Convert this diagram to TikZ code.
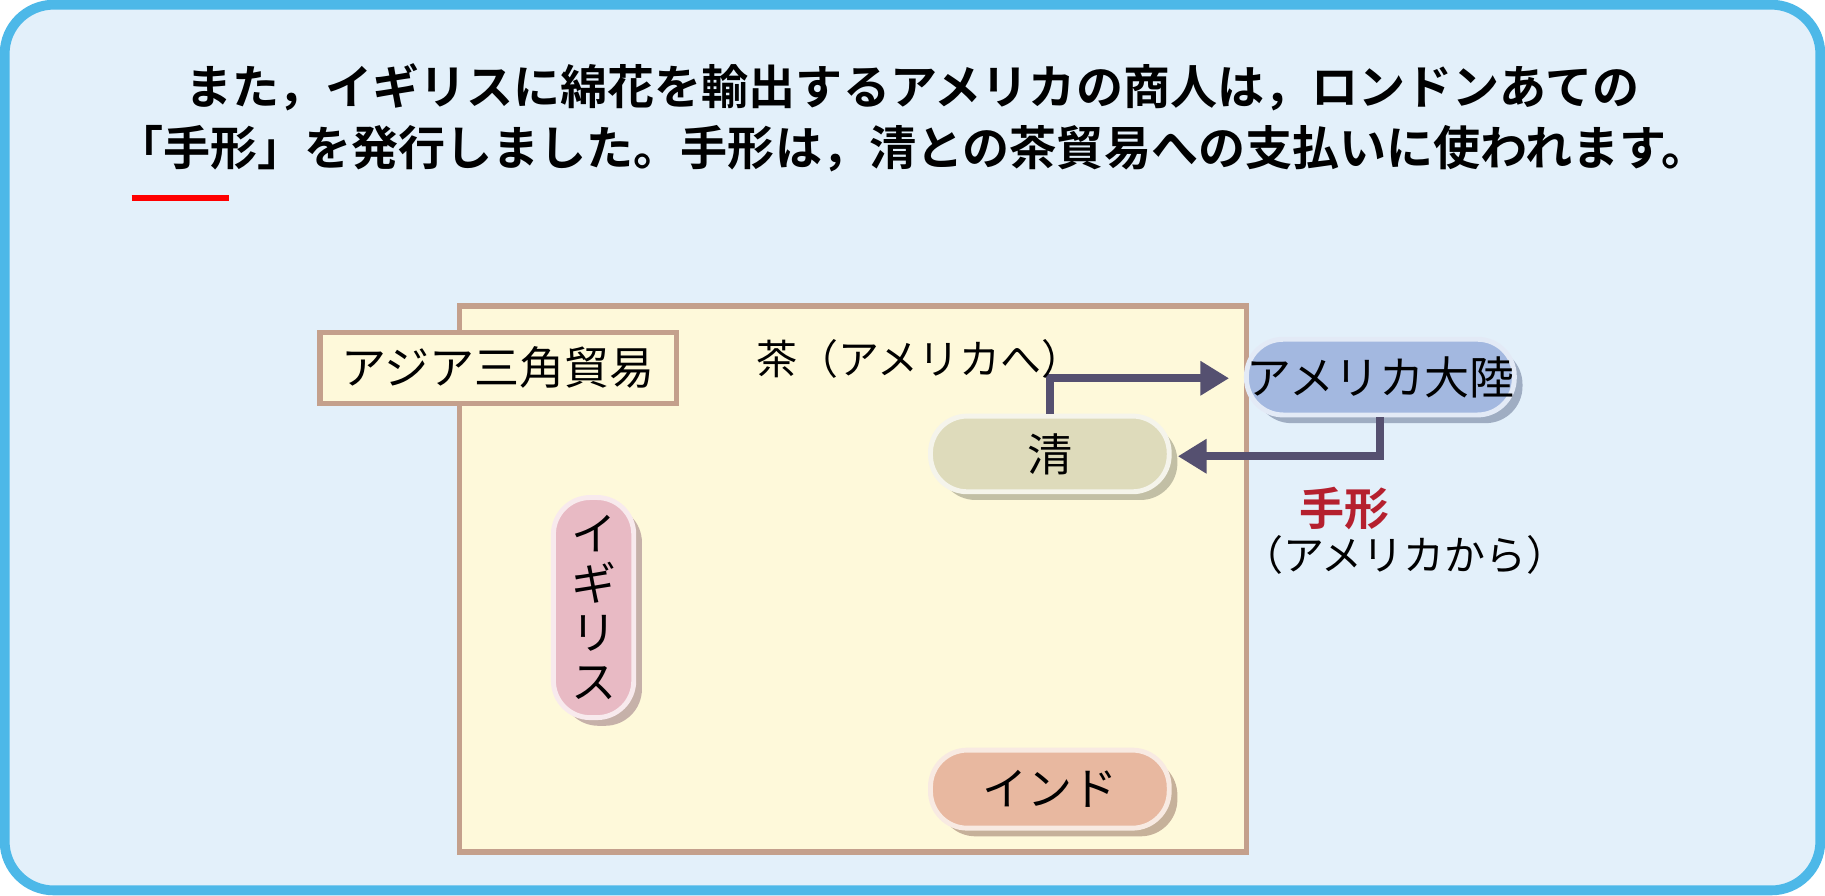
\documentclass[tikz,border=0pt]{standalone}
\usepackage{fontspec}
\setmainfont{Noto Sans CJK JP}
\newfontfamily\jpbold{Noto Sans CJK JP Bold}
\usetikzlibrary{positioning,shadows,arrows.meta}
\definecolor{frameblue}{HTML}{4DB8E8}
\definecolor{bgblue}{HTML}{E3F0FA}
\definecolor{paper}{HTML}{FEF9DA}
\definecolor{brownline}{HTML}{C4A08C}
\definecolor{arrowcol}{HTML}{555070}
\definecolor{qingcol}{HTML}{DEDBBB}
\definecolor{amecol}{HTML}{A3B8E0}
\definecolor{engcol}{HTML}{E8BAC4}
\definecolor{indcol}{HTML}{E8B8A0}
\definecolor{notered}{HTML}{B5202E}
\tikzset{
  country/.style={rounded corners=9pt, draw=white!70!#1, line width=1.2pt, fill=#1,
    drop shadow={shadow xshift=2pt, shadow yshift=-2pt, fill=#1!70!black, opacity=0.6},
    font=\fontsize{11}{13}\selectfont, align=center, inner sep=0pt},
  flow/.style={arrowcol, line width=2pt, -{Triangle[length=7pt,width=8pt]}}
}
\begin{document}
\begin{tikzpicture}[x=0.01cm,y=-0.01cm]
    % --- 外枠 ---
    \useasboundingbox (0,0) rectangle (1568,769);
    \draw[frameblue, fill=bgblue, line width=2.4pt, rounded corners=12pt] (4,4) rectangle (1564,765);

    % --- 見出し ---
    \node[font=\jpbold\fontsize{11.5}{14}\selectfont] (line1) at (784,75)
        {また，イギリスに綿花を輸出するアメリカの商人は，ロンドンあての};
    \node[font=\jpbold\fontsize{11.5}{14}\selectfont] (line2) at (784,128)
        {「手形」を発行しました。手形は，清との茶貿易への支払いに使われます。};
    \draw[red, line width=1.4pt] (113,170) -- (197,170);

    % --- 貿易の枠 ---
    \draw[brownline, fill=paper, line width=1.3pt] (395,263) rectangle (1071,732);
    \node[draw=brownline, fill=paper, line width=1.3pt, minimum width=3.06cm, minimum height=0.61cm,
        font=\fontsize{11}{13}\selectfont] (title) at (428,316) {アジア三角貿易};

    % --- 国 ---
    \node[country=qingcol, minimum width=2.05cm, minimum height=0.65cm] (qing) at (902,390) {清};
    \node[country=amecol, minimum width=2.07cm, minimum height=0.65cm] (america) at (1186,324) {アメリカ大陸};
    \node[country=engcol, minimum width=0.69cm, minimum height=1.89cm] (england) at (510,522)
        {イ\\[-1pt]ギ\\[-1pt]リ\\[-1pt]ス};
    \node[country=indcol, minimum width=2.05cm, minimum height=0.67cm] (india) at (902,678) {インド};

    % --- 矢印 ---
    \coordinate (teaend) at (1056,325);
    \coordinate (billend) at (1012,392);
    \draw[flow] (qing.north) |- (teaend);
    \draw[flow] (america.south) |- (billend);

    % --- ラベル ---
    \node[font=\fontsize{10}{12}\selectfont] (tea) at (790,308) {茶（アメリカへ）};
    \node[font=\jpbold\fontsize{11}{13}\selectfont, text=notered] (bill) at (1155,437) {手形};
    \node[font=\fontsize{10}{12}\selectfont] (billfrom) at (1207,477) {（アメリカから）};
\end{tikzpicture}
\end{document}
